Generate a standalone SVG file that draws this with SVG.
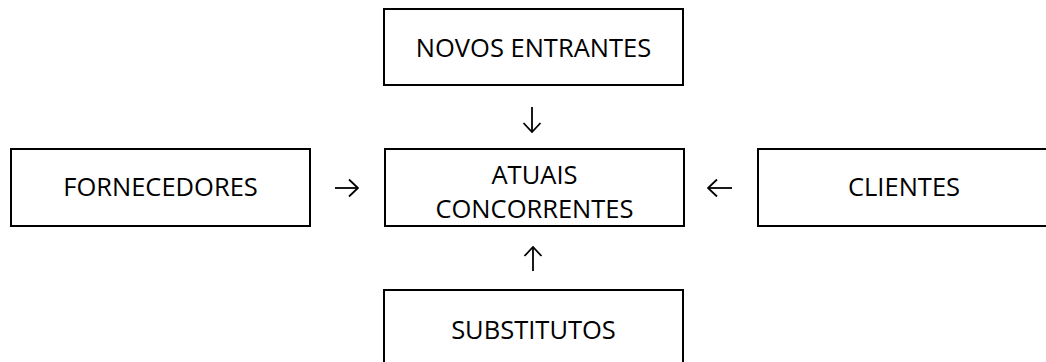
<svg xmlns="http://www.w3.org/2000/svg" width="1046" height="362" viewBox="0 0 1046 362">
<style>
.box{fill:#fff;stroke:#000;stroke-width:2}
.lbl{font-family:"Open Sans","Liberation Sans",sans-serif;font-size:25.5px;fill:#000;text-anchor:middle}
.arr{stroke:#000;stroke-width:1.8;fill:none;marker-end:url(#ah)}
</style>
<defs>
<marker id="ah" viewBox="0 0 11 20" refX="10" refY="10" markerWidth="11" markerHeight="20" markerUnits="userSpaceOnUse" orient="auto">
<path d="M1,1.5 L10,10 L1,18.5" fill="none" stroke="#000" stroke-width="1.8"/>
</marker>
</defs>
<rect width="1046" height="362" fill="#fff"/>
<g id="novos-entrantes">
<rect class="box" x="384" y="9" width="299" height="76"/>
<text class="lbl" x="533.5" y="57">NOVOS ENTRANTES</text>
</g>
<g id="fornecedores">
<rect class="box" x="11" y="149" width="299" height="77"/>
<text class="lbl" x="160.5" y="196">FORNECEDORES</text>
</g>
<g id="atuais-concorrentes">
<rect class="box" x="385" y="149" width="299" height="77"/>
<text class="lbl" x="534.5" y="184">ATUAIS</text>
<text class="lbl" x="534.5" y="218">CONCORRENTES</text>
</g>
<g id="clientes">
<rect class="box" x="758" y="149" width="300" height="77"/>
<text class="lbl" x="904" y="196">CLIENTES</text>
</g>
<g id="substitutos">
<rect class="box" x="384" y="290" width="299" height="80"/>
<text class="lbl" x="533.5" y="339">SUBSTITUTOS</text>
</g>
<g id="connectors">
<path class="arr" d="M335,188 H358"/>
<path class="arr" d="M732,188 H708"/>
<path class="arr" d="M532,107 V132"/>
<path class="arr" d="M533,271 V247"/>
</g>
</svg>
